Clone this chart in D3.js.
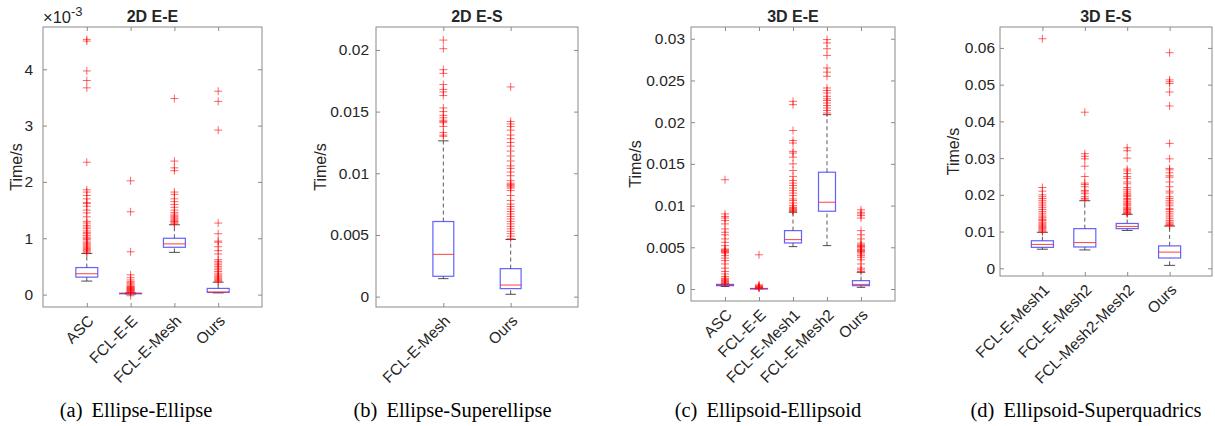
<!DOCTYPE html>
<html>
<head>
<meta charset="utf-8">
<script src="https://cdn.jsdelivr.net/npm/d3@7"></script>
<style>
    body { margin: 0; background: #fff; }
    text { font-family: 'Liberation Sans', Arial, sans-serif; fill: #262626; }
    .caption { font-family: 'Liberation Serif', 'Times New Roman', serif; fill: #000; }
</style>
</head>
<body>
<svg class="rootSvg" width="1215" height="426"></svg>
<script>
// ---- data: box stats are [whiskerLo, q1, median, q3, whiskerHi] ----

// (a) 2D E-E, values in 1e-3 s
var eeCats = ['ASC', 'FCL-E-E', 'FCL-E-Mesh', 'Ours'];
var eeStats = [
    [0.24, 0.31, 0.37, 0.48, 0.73],
    [0.01, 0.015, 0.02, 0.025, 0.03],
    [0.75, 0.84, 0.90, 1.0, 1.24],
    [0.03, 0.04, 0.045, 0.11, 0.22]
];
var eeOutliers = [
    [0.74, 0.76, 0.78, 0.8, 0.82, 0.84, 0.86, 0.88, 0.9, 0.92, 0.95, 0.98, 1.0, 1.02, 1.05, 1.08, 1.1, 1.13, 1.17, 1.2, 1.23, 1.27, 1.3, 1.38, 1.45, 1.5, 1.57, 1.62, 1.63, 1.7, 1.76, 1.82, 1.86, 2.35, 3.67, 3.8, 3.97, 4.5, 4.53],
    [-0.02, 0.04, 0.05, 0.06, 0.07, 0.08, 0.09, 0.1, 0.11, 0.12, 0.13, 0.14, 0.15, 0.17, 0.19, 0.21, 0.23, 0.26, 0.3, 0.35, 0.76, 1.47, 2.02],
    [1.25, 1.27, 1.29, 1.3, 1.32, 1.34, 1.36, 1.38, 1.4, 1.43, 1.46, 1.5, 1.55, 1.6, 1.65, 1.7, 1.78, 1.82, 2.2, 2.25, 2.37, 3.48],
    [0.23, 0.25, 0.27, 0.29, 0.31, 0.33, 0.35, 0.38, 0.41, 0.44, 0.47, 0.5, 0.53, 0.56, 0.59, 0.62, 0.72, 0.78, 0.85, 0.93, 0.95, 1.08, 1.27, 2.92, 3.43, 3.61]
];
var eeTicks = [0, 1, 2, 3, 4];

// (b) 2D E-S
var esCats = ['FCL-E-Mesh', 'Ours'];
var esStats = [
    [0.00146, 0.00165, 0.00343, 0.00609, 0.01263],
    [0.00019, 0.00065, 0.00094, 0.00227, 0.00463]
];
var esOutliers = [
    [0.0130, 0.0131, 0.0133, 0.0138, 0.0141, 0.0142, 0.0143, 0.0145, 0.0147, 0.0150, 0.0153, 0.0163, 0.0166, 0.0168, 0.0172, 0.0181, 0.0184, 0.0201, 0.0208],
    [0.0047, 0.0049, 0.0051, 0.0053, 0.0055, 0.0057, 0.0059, 0.0061, 0.0063, 0.0065, 0.0067, 0.0069, 0.0071, 0.0073, 0.0075, 0.0078, 0.0082, 0.0086, 0.0088, 0.0089, 0.0090, 0.0091, 0.0092, 0.0094, 0.0098, 0.0101, 0.0104, 0.0106, 0.0110, 0.0114, 0.0118, 0.0122, 0.0125, 0.0128, 0.0131, 0.0135, 0.0138, 0.0140, 0.0142, 0.0170]
];
var esTicks = [0, 0.005, 0.01, 0.015, 0.02];

// (c) 3D E-E
var eeeCats = ['ASC', 'FCL-E-E', 'FCL-E-Mesh1', 'FCL-E-Mesh2', 'Ours'];
var eeeStats = [
    [0.0003, 0.0004, 0.00045, 0.00055, 0.0006],
    [0.00002, 0.00004, 0.00005, 0.00006, 0.00008],
    [0.00508, 0.00552, 0.00592, 0.0070, 0.0092],
    [0.0052, 0.00932, 0.0104, 0.0140, 0.0209],
    [0.0002, 0.0004, 0.00055, 0.001, 0.002]
];
var eeeOutliers = [
    [0.0007, 0.0008, 0.0009, 0.001, 0.0011, 0.0012, 0.0013, 0.0015, 0.0018, 0.0021, 0.0025, 0.003, 0.0034, 0.0037, 0.004, 0.0043, 0.0044, 0.0045, 0.0046, 0.0047, 0.0048, 0.0052, 0.0056, 0.006, 0.0065, 0.0068, 0.0072, 0.0078, 0.0082, 0.0085, 0.0087, 0.009, 0.0131],
    [0.0001, 0.00015, 0.0002, 0.00025, 0.0003, 0.0004, 0.0005, 0.0041],
    [0.0093, 0.0094, 0.0095, 0.0096, 0.0097, 0.0098, 0.0100, 0.0103, 0.0106, 0.0108, 0.0112, 0.0115, 0.0118, 0.0121, 0.0124, 0.0127, 0.013, 0.0135, 0.0142, 0.015, 0.0158, 0.0163, 0.0165, 0.0175, 0.0178, 0.019, 0.0221, 0.0225],
    [0.0211, 0.0214, 0.0217, 0.022, 0.0223, 0.0226, 0.0228, 0.0231, 0.0235, 0.0238, 0.0241, 0.0255, 0.026, 0.0265, 0.028, 0.0288, 0.0295, 0.0299],
    [0.0021, 0.0023, 0.0025, 0.003, 0.0035, 0.0038, 0.004, 0.0042, 0.0044, 0.0045, 0.0046, 0.0047, 0.0048, 0.005, 0.0051, 0.0052, 0.0053, 0.0055, 0.006, 0.0065, 0.007, 0.0085, 0.0088, 0.009, 0.0092, 0.0095]
];
var eeeTicks = [0, 0.005, 0.01, 0.015, 0.02, 0.025, 0.03];

// (d) 3D E-S
var eesCats = ['FCL-E-Mesh1', 'FCL-E-Mesh2', 'FCL-Mesh2-Mesh2', 'Ours'];
var eesStats = [
    [0.0052, 0.0057, 0.0065, 0.0075, 0.0098],
    [0.005, 0.0058, 0.007, 0.0108, 0.0184],
    [0.0103, 0.0108, 0.0114, 0.0122, 0.0147],
    [0.0008, 0.0028, 0.0044, 0.0061, 0.0115]
];
var eesOutliers = [
    [0.0099, 0.0102, 0.0105, 0.0108, 0.0111, 0.0114, 0.0117, 0.012, 0.0123, 0.0126, 0.013, 0.0133, 0.0137, 0.014, 0.0145, 0.015, 0.0155, 0.016, 0.0165, 0.017, 0.0175, 0.018, 0.0185, 0.019, 0.0195, 0.02, 0.021, 0.022, 0.0625],
    [0.0186, 0.019, 0.0195, 0.0203, 0.0208, 0.0212, 0.0222, 0.0228, 0.0232, 0.025, 0.0278, 0.0298, 0.0305, 0.0312, 0.0425],
    [0.0148, 0.015, 0.0152, 0.0155, 0.0158, 0.016, 0.0163, 0.0166, 0.017, 0.0173, 0.0176, 0.018, 0.0183, 0.0187, 0.019, 0.0195, 0.0198, 0.0202, 0.0205, 0.021, 0.0215, 0.022, 0.023, 0.0235, 0.0245, 0.025, 0.0258, 0.0265, 0.027, 0.03, 0.032, 0.0328],
    [0.0116, 0.0118, 0.012, 0.0123, 0.0126, 0.013, 0.0135, 0.014, 0.0145, 0.015, 0.0155, 0.016, 0.0163, 0.017, 0.0175, 0.018, 0.0185, 0.019, 0.0195, 0.0205, 0.021, 0.0222, 0.0235, 0.0248, 0.0252, 0.026, 0.0268, 0.0272, 0.0298, 0.034, 0.0442, 0.048, 0.0503, 0.0508, 0.0513, 0.0587]
];
var eesTicks = [0, 0.01, 0.02, 0.03, 0.04, 0.05, 0.06];

// ---- layout ----
var panels = [
    { title: '2D E-E', tag: '(a)', caption: 'Ellipse-Ellipse', cats: eeCats, stats: eeStats, outliers: eeOutliers, ticks: eeTicks,
      left: 43, right: 262, top: 27, bottom: 307, yDomain: [-0.22, 4.75], boxFrac: 0.5, ylabX: 16.5, capX: 136, tickPad: 10, exponent: true },
    { title: '2D E-S', tag: '(b)', caption: 'Ellipse-Superellipse', cats: esCats, stats: esStats, outliers: esOutliers, ticks: esTicks,
      left: 376, right: 578, top: 27, bottom: 307, yDomain: [-0.00084, 0.02186], boxFrac: 0.31, ylabX: 320, capX: 452.5, tickPad: 7 },
    { title: '3D E-E', tag: '(c)', caption: 'Ellipsoid-Ellipsoid', cats: eeeCats, stats: eeeStats, outliers: eeeOutliers, ticks: eeeTicks,
      left: 691, right: 895, top: 27, bottom: 301, yDomain: [-0.00144, 0.03141], boxFrac: 0.5, ylabX: 635, capX: 768, tickPad: 6 },
    { title: '3D E-S', tag: '(d)', caption: 'Ellipsoid-Superquadrics', cats: eesCats, stats: eesStats, outliers: eesOutliers, ticks: eesTicks,
      left: 1000, right: 1212, top: 27, bottom: 276, yDomain: [-0.0021, 0.0657], boxFrac: 0.52, ylabX: 953, capX: 1086, tickPad: 5 }
];

var svg = d3.select('.rootSvg');
var frameColor = '#8a8a8a';
var tickLen = 4;
var mark = 4;

function drawPanel(p) {
    var g = svg.append('g');
    var n = p.cats.length;

    var x = d3.scaleLinear().domain([0, n + 1]).range([p.left, p.right]);
    var y = d3.scaleLinear().domain(p.yDomain).range([p.bottom, p.top]);
    var bw = (x(1) - x(0)) * p.boxFrac;

    // frame
    g.append('rect')
        .attr('x', p.left)
        .attr('y', p.top)
        .attr('width', p.right - p.left)
        .attr('height', p.bottom - p.top)
        .attr('fill', 'none')
        .attr('stroke', frameColor)
        .attr('stroke-width', 1);

    // y ticks, left and right, pointing inward
    var yAxisL = d3.axisLeft(y).tickValues(p.ticks).tickSizeInner(-tickLen).tickSizeOuter(0).tickPadding(p.tickPad)
        .tickFormat(function (d) { return d3.format('~g')(d); });
    var yAxisR = d3.axisRight(y).tickValues(p.ticks).tickSizeInner(-tickLen).tickSizeOuter(0).tickFormat('');

    var gl = g.append('g').attr('transform', 'translate(' + p.left + ',0)').call(yAxisL);
    g.append('g').attr('transform', 'translate(' + p.right + ',0)').call(yAxisR)
        .call(function (s) { s.select('.domain').remove(); });
    gl.select('.domain').remove();
    gl.selectAll('text').style('font-size', '15.5px').attr('fill', '#262626')
        .style('font-family', "'Liberation Sans', Arial, sans-serif");

    // x ticks, bottom and top
    var cx = d3.range(1, n + 1);
    var xAxisB = d3.axisBottom(x).tickValues(cx).tickSizeInner(-tickLen).tickSizeOuter(0).tickFormat('');
    var xAxisT = d3.axisTop(x).tickValues(cx).tickSizeInner(-tickLen).tickSizeOuter(0).tickFormat('');
    g.append('g').attr('transform', 'translate(0,' + p.bottom + ')').call(xAxisB)
        .call(function (s) { s.select('.domain').remove(); });
    g.append('g').attr('transform', 'translate(0,' + p.top + ')').call(xAxisT)
        .call(function (s) { s.select('.domain').remove(); });
    g.selectAll('.tick line').attr('stroke', frameColor);

    // rotated category labels
    g.selectAll('.catLabel')
        .data(p.cats)
        .enter()
        .append('text')
            .attr('class', 'catLabel')
            .attr('text-anchor', 'end')
            .attr('dy', '0.35em')
            .style('font-size', '15.5px')
            .attr('transform', function (d, i) {
                return 'translate(' + (x(i + 1) + 4) + ',' + (p.bottom + 11) + ') rotate(-45)';
            })
            .text(function (d) { return d; });

    // boxes
    var box = g.selectAll('.box')
        .data(p.stats)
        .enter()
        .append('g')
            .attr('class', 'box')
            .attr('transform', function (d, i) { return 'translate(' + x(i + 1) + ',0)'; });

    box.append('line')
        .attr('x1', 0).attr('x2', 0)
        .attr('y1', function (d) { return y(d[3]); })
        .attr('y2', function (d) { return y(d[4]); })
        .attr('stroke', '#333').attr('stroke-dasharray', '4,3').attr('stroke-width', 1).attr('opacity', 0.8);
    box.append('line')
        .attr('x1', 0).attr('x2', 0)
        .attr('y1', function (d) { return y(d[0]); })
        .attr('y2', function (d) { return y(d[1]); })
        .attr('stroke', '#333').attr('stroke-dasharray', '4,3').attr('stroke-width', 1).attr('opacity', 0.8);
    [0, 4].forEach(function (k) {
        box.append('line')
            .attr('x1', -bw / 4).attr('x2', bw / 4)
            .attr('y1', function (d) { return y(d[k]); })
            .attr('y2', function (d) { return y(d[k]); })
            .attr('stroke', '#222').attr('stroke-width', 1).attr('opacity', 0.8);
    });
    box.append('rect')
        .attr('x', -bw / 2)
        .attr('width', bw)
        .attr('y', function (d) { return y(d[3]); })
        .attr('height', function (d) { return Math.max(y(d[1]) - y(d[3]), 0.5); })
        .attr('fill', 'none')
        .attr('stroke', '#3b3bff')
        .attr('stroke-opacity', 0.8)
        .attr('stroke-width', 1.2);
    box.append('line')
        .attr('x1', -bw / 2).attr('x2', bw / 2)
        .attr('y1', function (d) { return y(d[2]); })
        .attr('y2', function (d) { return y(d[2]); })
        .attr('stroke', '#ff2020').attr('stroke-opacity', 0.85).attr('stroke-width', 1);

    // outliers
    p.outliers.forEach(function (vals, i) {
        var xc = x(i + 1);
        g.selectAll(null)
            .data(vals)
            .enter()
            .append('path')
                .attr('d', function (v) {
                    var yc = y(v);
                    return 'M' + (xc - mark) + ',' + yc + 'H' + (xc + mark)
                         + 'M' + xc + ',' + (yc - mark) + 'V' + (yc + mark);
                })
                .attr('stroke', '#ff0000')
                .attr('stroke-opacity', 0.6)
                .attr('stroke-width', 1)
                .attr('fill', 'none');
    });

    // title
    g.append('text')
        .attr('x', (p.left + p.right) / 2)
        .attr('y', 21.5)
        .attr('text-anchor', 'middle')
        .style('font-size', '16px')
        .style('font-weight', 'bold')
        .attr('fill', '#000')
        .text(p.title);

    // y label
    g.append('text')
        .attr('transform', 'translate(' + p.ylabX + ',' + ((p.top + p.bottom) / 2) + ') rotate(-90)')
        .attr('text-anchor', 'middle')
        .attr('dy', '0.35em')
        .style('font-size', '16px')
        .text('Time/s');

    // exponent label for the scaled axis
    if (p.exponent) {
        var ex = g.append('text')
            .attr('x', p.left)
            .attr('y', 23)
            .style('font-size', '16.5px');
        ex.append('tspan').text('\u00d710');
        ex.append('tspan').attr('dy', -7).style('font-size', '13px').text('-3');
    }

    // caption
    var cap = g.append('text')
        .attr('class', 'caption')
        .attr('x', p.capX)
        .attr('y', 416.5)
        .attr('text-anchor', 'middle')
        .style('font-size', '20.5px');
    cap.append('tspan').text(p.tag);
    cap.append('tspan').attr('dx', 9).text(p.caption);
}

panels.forEach(drawPanel);
</script>
</body>
</html>
